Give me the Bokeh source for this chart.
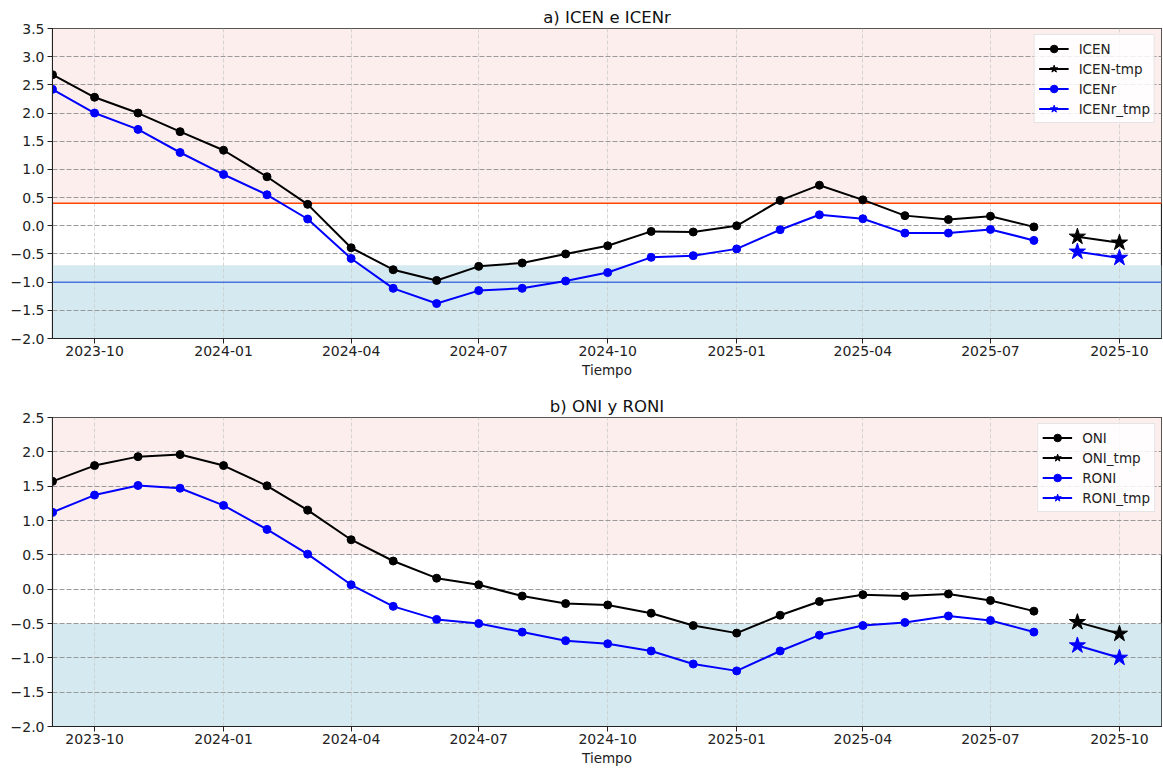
import pandas as pd
from bokeh.plotting import figure
from bokeh.layouts import column
from bokeh.models import (BoxAnnotation, Span, Legend, LegendItem, FixedTicker,
                          DatetimeTickFormatter, CustomJSTickFormatter, Range1d)
from bokeh.embed import file_html
from bokeh.resources import INLINE

# ---------------- data ----------------
months = ["2023-09", "2023-10", "2023-11", "2023-12",
          "2024-01", "2024-02", "2024-03", "2024-04", "2024-05", "2024-06",
          "2024-07", "2024-08", "2024-09", "2024-10", "2024-11", "2024-12",
          "2025-01", "2025-02", "2025-03", "2025-04", "2025-05", "2025-06",
          "2025-07", "2025-08"]
months_tmp = ["2025-09", "2025-10"]

icen = [2.68, 2.28, 2.00, 1.67, 1.34, 0.87, 0.38, -0.39, -0.78, -0.97, -0.72, -0.66,
        -0.50, -0.355, -0.10, -0.11, 0.00, 0.45, 0.72, 0.46, 0.18, 0.11, 0.17, -0.02]
icen_tmp = [-0.195, -0.30]
icenr = [2.42, 2.00, 1.71, 1.30, 0.91, 0.55, 0.12, -0.58, -1.11, -1.38, -1.15, -1.11,
         -0.98, -0.83, -0.56, -0.53, -0.41, -0.07, 0.195, 0.125, -0.13, -0.13, -0.065, -0.26]
icenr_tmp = [-0.46, -0.57]

oni = [1.57, 1.80, 1.93, 1.96, 1.80, 1.505, 1.15, 0.72, 0.41, 0.16, 0.064, -0.10,
       -0.21, -0.23, -0.35, -0.53, -0.64, -0.38, -0.18, -0.08, -0.10, -0.07, -0.165, -0.32]
oni_tmp = [-0.48, -0.65]
roni = [1.12, 1.37, 1.51, 1.47, 1.22, 0.87, 0.51, 0.064, -0.25, -0.44, -0.50, -0.625,
        -0.75, -0.795, -0.90, -1.09, -1.19, -0.90, -0.67, -0.53, -0.485, -0.39, -0.455, -0.625]
roni_tmp = [-0.82, -1.00]

tick_dates = ["2023-10", "2024-01", "2024-04", "2024-07", "2024-10",
              "2025-01", "2025-04", "2025-07", "2025-10"]
x_limits = ["2023-09-01", "2025-10-31"]

# thresholds / bands
a_warm_band, a_cold_band = 0.4, -0.7
a_warm_line, a_cold_line = 0.4, -1.0
b_warm_band, b_cold_band = 0.5, -0.5

FONT = "DejaVu Sans"
PINK = "#fdeeee"
LBLUE = "#d4e9f0"


def to_dt(lst):
    return [pd.Timestamp(s) for s in lst]


def ms(s):
    return pd.Timestamp(s).value // 10**6


def make_panel(title, ylo, yhi, height, btop, bbot, series, names,
               warm_band, cold_band, lines=None):
    p = figure(width=1162, height=height, x_axis_type="datetime",
               x_range=Range1d(pd.Timestamp(x_limits[0]), pd.Timestamp(x_limits[1])),
               y_range=Range1d(ylo, yhi), output_backend="svg",
               toolbar_location=None, min_border_left=52, min_border_right=1,
               min_border_top=btop, min_border_bottom=bbot)
    p.title.text = title
    p.title.align = "center"
    p.title.text_font = FONT
    p.title.text_font_size = "16.5px"
    p.title.text_font_style = "normal"
    p.title.text_color = "#111111"
    p.title.standoff = 4

    p.outline_line_color = "#222222"
    p.outline_line_width = 1.2

    xt = FixedTicker(ticks=[ms(d) for d in tick_dates])
    p.xaxis.ticker = xt
    p.xgrid.ticker = xt
    fmt = "%Y-%m"
    p.xaxis.formatter = DatetimeTickFormatter(years=fmt, months=fmt, days=fmt,
                                              hours=fmt, minutes=fmt)
    nt = int(round((yhi - ylo) / 0.5)) + 1
    yt = FixedTicker(ticks=[ylo + 0.5 * i for i in range(nt)])
    p.yaxis.ticker = yt
    p.ygrid.ticker = yt
    p.yaxis.formatter = CustomJSTickFormatter(
        code="return tick.toFixed(1).replace('-', '\u2212');")

    for ax in (p.xaxis, p.yaxis):
        ax.major_label_text_font = FONT
        ax.major_label_text_font_size = "14px"
        ax.major_label_text_color = "#222222"
        ax.major_tick_out = 5
        ax.major_tick_in = 0
        ax.minor_tick_out = 0
        ax.minor_tick_in = 0
        ax.axis_line_color = "#222222"
        ax.major_tick_line_color = "#222222"
    p.yaxis.major_label_standoff = 3
    p.xaxis.major_label_standoff = 2
    p.xaxis.axis_label = "Tiempo"
    p.xaxis.axis_label_text_font = FONT
    p.xaxis.axis_label_text_font_size = "13.5px"
    p.xaxis.axis_label_text_font_style = "normal"
    p.xaxis.axis_label_text_color = "#222222"
    p.xaxis.axis_label_standoff = 3

    p.xgrid.grid_line_color = "#cccccc"
    p.xgrid.grid_line_dash = "4 2"
    p.xgrid.grid_line_width = 0.8
    p.ygrid.grid_line_color = "#999999"
    p.ygrid.grid_line_dash = "5 2"
    p.ygrid.grid_line_width = 1

    p.add_layout(BoxAnnotation(bottom=warm_band, top=yhi, fill_color=PINK,
                               fill_alpha=1, line_color=None, level="image"))
    p.add_layout(BoxAnnotation(bottom=ylo, top=cold_band, fill_color=LBLUE,
                               fill_alpha=1, line_color=None, level="image"))
    if lines:
        for loc, col in lines:
            p.add_layout(Span(location=loc, dimension="width", line_color=col,
                              line_width=1.5, level="underlay"))

    items = []
    x_obs = to_dt(months)
    x_tmp = to_dt(months_tmp)
    for (vals, vals_tmp, col), (n_obs, n_tmp) in zip(series, names):
        l1 = p.line(x_obs, vals, line_color=col, line_width=2)
        m1 = p.scatter(x_obs, vals, marker="circle", size=8, fill_color=col,
                       line_color=col)
        l2 = p.line(x_tmp, vals_tmp, line_color=col, line_width=2)
        m2 = p.scatter(x_tmp, vals_tmp, marker="star", size=17, fill_color=col,
                       line_color=col)
        items.append(LegendItem(label=n_obs, renderers=[l1, m1]))
        items.append(LegendItem(label=n_tmp, renderers=[l2, m2]))

    leg = Legend(items=items, location="top_right")
    leg.label_text_font = FONT
    leg.label_text_font_size = "13.5px"
    leg.label_text_color = "#222222"
    leg.glyph_width = 30
    leg.glyph_height = 19
    leg.label_height = 19
    leg.spacing = 1
    leg.padding = 4
    leg.margin = 6
    leg.label_standoff = 10
    leg.border_line_color = "#cccccc"
    leg.background_fill_alpha = 0.85
    p.add_layout(leg)
    return p


p1 = make_panel("a) ICEN e ICENr", -2.0, 3.5, 385, 28, 47,
                [(icen, icen_tmp, "black"), (icenr, icenr_tmp, "blue")],
                [("ICEN", "ICEN-tmp"), ("ICENr", "ICENr_tmp")],
                a_warm_band, a_cold_band,
                lines=[(a_warm_line, "#ff4500"), (a_cold_line, "#4a74e0")])
p2 = make_panel("b) ONI y RONI", -2.0, 2.5, 383, 32, 42,
                [(oni, oni_tmp, "black"), (roni, roni_tmp, "blue")],
                [("ONI", "ONI_tmp"), ("RONI", "RONI_tmp")],
                b_warm_band, b_cold_band)

layout = column(p1, p2, spacing=0)
open("out.html", "w").write(file_html(layout, INLINE))
